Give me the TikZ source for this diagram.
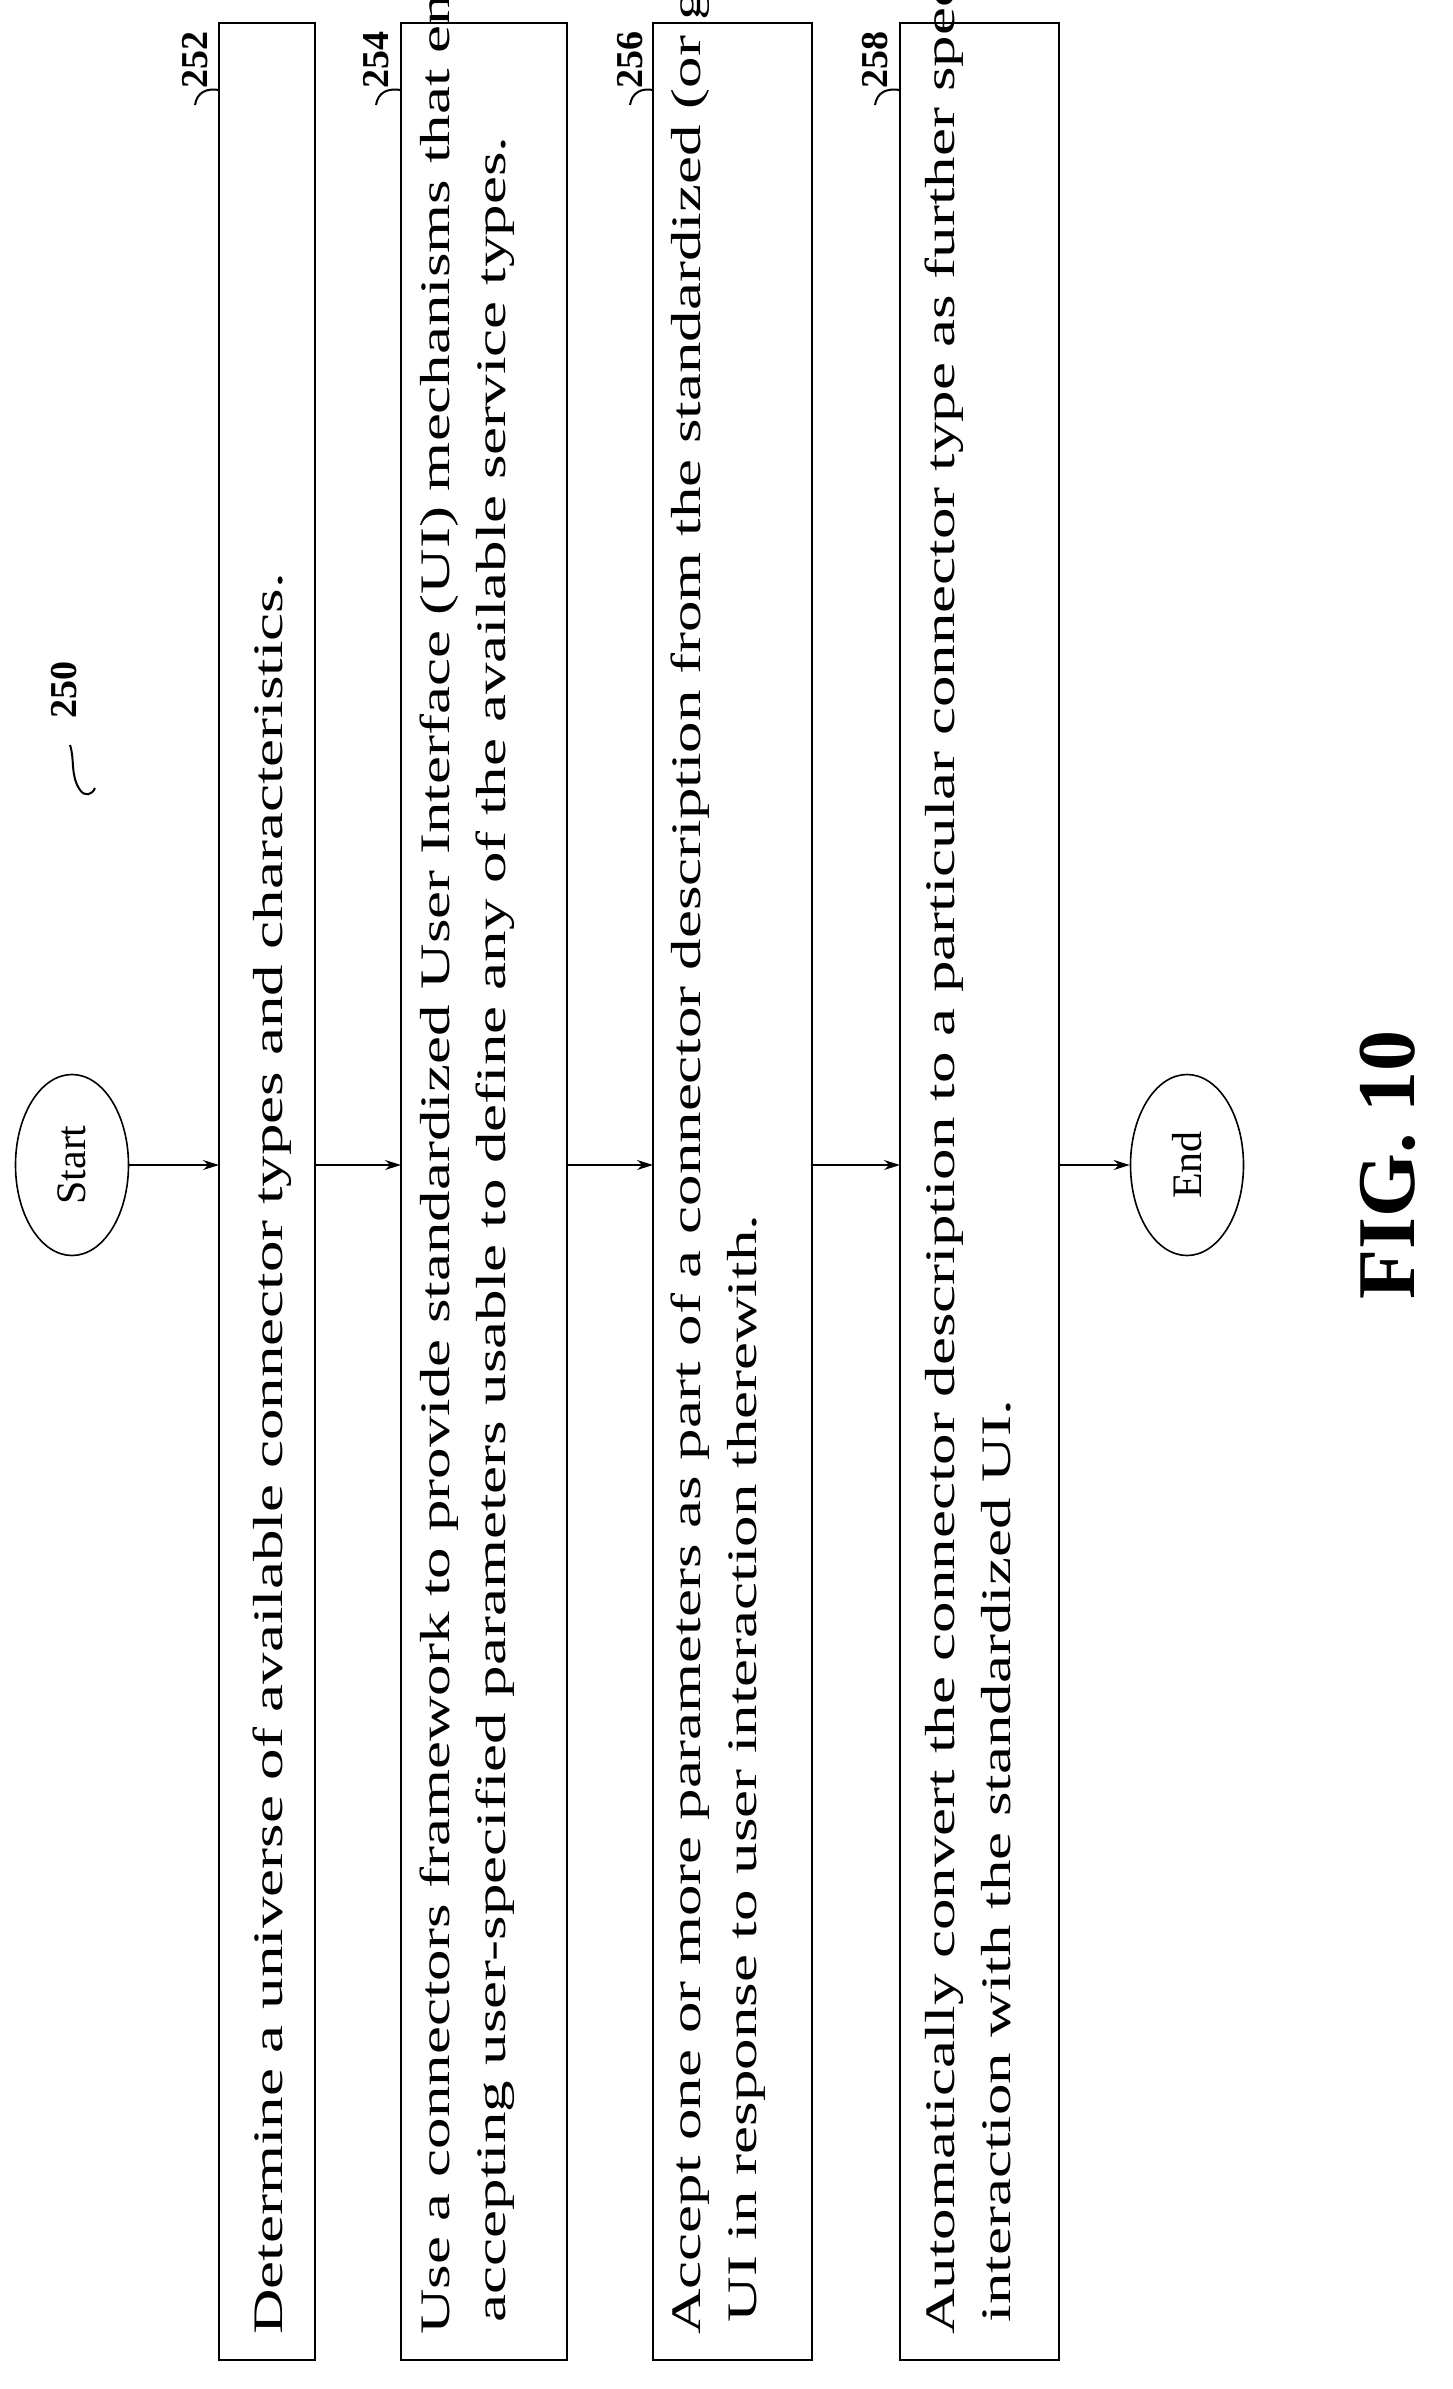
\documentclass[tikz,border=0pt]{standalone}
\usepackage{fontspec}
\setmainfont{Liberation Serif}
\newfontfamily\widefont[FakeStretch=1.5]{Liberation Serif}
\usetikzlibrary{arrows.meta,shapes.geometric}
\begin{document}
\begin{tikzpicture}[x=1pt,y=-1pt,
  boxs/.style={draw,line width=1.6pt},
  txt/.style={rotate=90,align=left,anchor=west,inner sep=0pt,font=\widefont\fontsize{42}{56}\selectfont},
  lab/.style={rotate=90,font=\bfseries\fontsize{38}{38}\selectfont,inner sep=1pt},
  term/.style={draw,ellipse,line width=1.6pt,rotate=90,minimum width=181pt,minimum height=113pt,inner sep=0pt,font=\fontsize{42}{42}\selectfont},
  arr/.style={-{Stealth[length=16pt,width=10pt]},line width=1.4pt},
  hook/.style={line width=2pt}]
\useasboundingbox (0,0) rectangle (1452,2389);
\node[term] (st) at (72,1165) {Start};
\node[term] (en) at (1187,1165) {End};
\draw[boxs] (219,23) rectangle (315,2360);
\draw[boxs] (401,23) rectangle (567,2360);
\draw[boxs] (653,23) rectangle (812,2360);
\draw[boxs] (900,23) rectangle (1059,2360);
\coordinate (b1l) at (219,1165); \coordinate (b1r) at (315,1165);
\coordinate (b2l) at (401,1165); \coordinate (b2r) at (567,1165);
\coordinate (b3l) at (653,1165); \coordinate (b3r) at (812,1165);
\coordinate (b4l) at (900,1165); \coordinate (b4r) at (1059,1165);
\node[txt] (t1) at (272,2335) {Determine a universe of available connector types and characteristics.};
\node[txt] (t2) at (467,2335) {Use a connectors framework to provide standardized User Interface (UI) mechanisms that enables\\ \hspace*{0.3em}accepting user-specified parameters usable to define any of the available service types.};
\node[txt] (t3) at (718,2335) {Accept one or more parameters as part of a connector description from the standardized (or generalized)\\ \hspace*{0.3em}UI in response to user interaction therewith.};
\node[txt] (t4) at (968,2335) {Automatically convert the connector description to a particular connector type as further specified via user\\ \hspace*{0.3em}interaction with the standardized UI.};
\draw[arr] (st) -- (b1l);
\draw[arr] (b1r) -- (b2l);
\draw[arr] (b2r) -- (b3l);
\draw[arr] (b3r) -- (b4l);
\draw[arr] (b4r) -- (en);
\foreach \n/\x/\b in {252/195/219,254/376/401,256/630/653,258/875/900}{
  \node[lab,anchor=east] (l\n) at (\x,30) {\n};
  \draw[hook] (\x,105) .. controls (\x+2,92) and (\x+12,88) .. (\b,90);
}
\node[lab,anchor=east] (l250) at (64,660) {250};
\draw[hook] (70,745) .. controls (75,760) and (70,775) .. (80,790) .. controls (85,797) and (92,795) .. (95,788);
\node[rotate=90,font=\bfseries\fontsize{82}{82}\selectfont] (fig) at (1388,1165) {FIG. 10};
\end{tikzpicture}
\end{document}
